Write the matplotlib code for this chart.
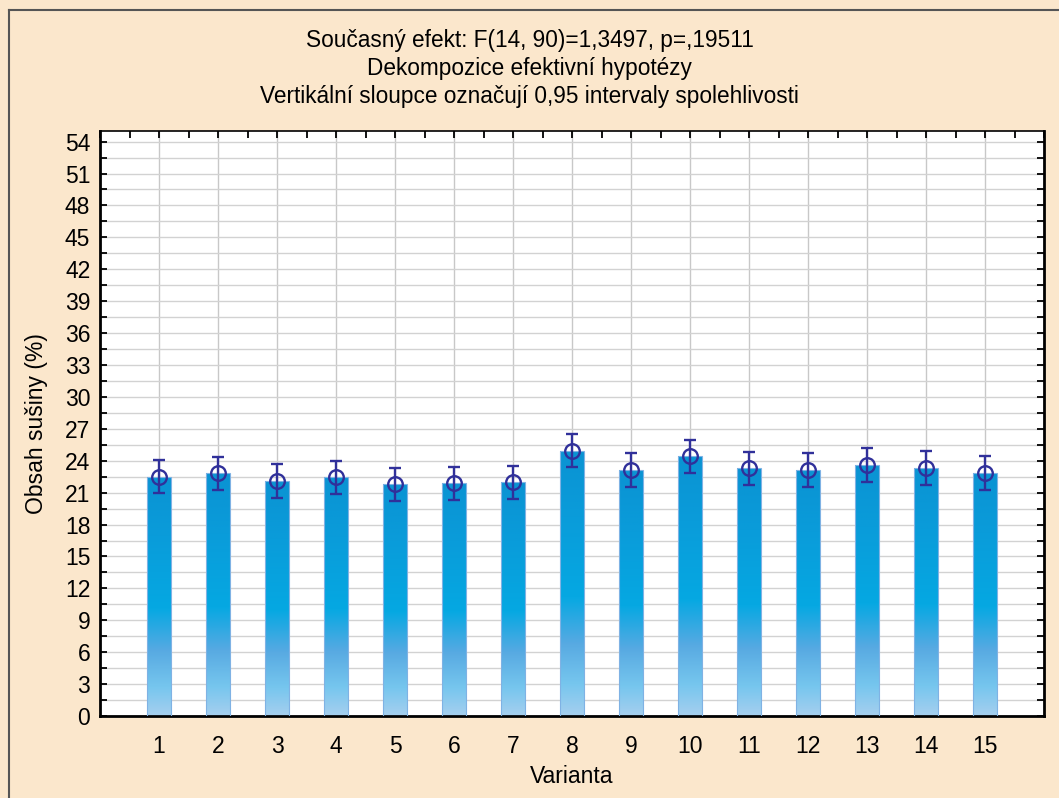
import numpy as np
import matplotlib
matplotlib.use("Agg")
import matplotlib.pyplot as plt
from matplotlib.colors import LinearSegmentedColormap
from matplotlib.lines import Line2D
from matplotlib.ticker import MultipleLocator

plt.rcParams["font.family"] = ["Liberation Sans", "DejaVu Sans"]

# data
varianta = [1, 2, 3, 4, 5, 6, 7, 8, 9, 10, 11, 12, 13, 14, 15]
means = [22.5, 22.83, 22.14, 22.45, 21.82, 21.95, 21.98, 24.93, 23.11, 24.43, 23.27, 23.11, 23.61, 23.33, 22.89]
ci_low = [20.95, 21.23, 20.54, 20.88, 20.23, 20.32, 20.38, 23.42, 21.52, 22.86, 21.70, 21.52, 22.01, 21.73, 21.26]
ci_high = [24.05, 24.37, 23.70, 23.96, 23.36, 23.45, 23.52, 26.53, 24.68, 25.96, 24.80, 24.68, 25.15, 24.87, 24.46]

titles = ["Současný efekt: F(14, 90)=1,3497, p=,19511",
          "Dekompozice efektivní hypotézy",
          "Vertikální sloupce označují 0,95 intervaly spolehlivosti"]

bg = "#FBE7CC"
fig = plt.figure(figsize=(10.59, 7.98), dpi=100)
fig.patch.set_facecolor(bg)
ax = fig.add_axes([100/1059, 1-716/798, 944/1059, 585/798])
ax.set_facecolor("white")

# gradient for the bars (bottom -> top)
cmap = LinearSegmentedColormap.from_list("bar", [
    (0.0, "#A6CFEF"), (0.12, "#76C6EE"), (0.27, "#58AAE2"),
    (0.45, "#05A8E2"), (0.75, "#0A9CDA"), (1.0, "#0A93D3")])

w = 0.4
x = np.array(varianta)
bars = ax.bar(x, means, width=w, color="none", edgecolor="#7FB2E4", linewidth=0.8, zorder=3)
grad = np.linspace(0, 1, 256).reshape(-1, 1)
for b in bars:
    x0 = b.get_x()
    h = b.get_height()
    im = ax.imshow(grad, cmap=cmap, origin="lower", aspect="auto",
                   extent=[x0, x0 + w, 0, h], zorder=2)
    im.set_clip_path(b)

ax.errorbar(x, means, yerr=[np.array(means) - np.array(ci_low), np.array(ci_high) - np.array(means)],
            fmt="o", mfc="none", mec="#30309A", ms=10.5, mew=1.7,
            ecolor="#30309A", elinewidth=1.7, capsize=4, capthick=1.7, zorder=4)

ax.set_xlim(0, 16)
ax.set_ylim(0, 55)
ax.set_xticks(varianta)
ax.xaxis.set_minor_locator(MultipleLocator(0.5))
ax.yaxis.set_major_locator(MultipleLocator(3))
ax.yaxis.set_minor_locator(MultipleLocator(1.5))
ax.set_yticks(np.arange(0, 55, 3))

ax.grid(True, which="major", axis="x", color="#C8C8C8", linewidth=1, zorder=0)
ax.grid(True, which="both", axis="y", color="#D2D2D2", linewidth=1, zorder=0)
ax.set_axisbelow(True)

ax.tick_params(which="both", direction="in", top=True, right=True, length=5, width=1.3,
               labelsize=16.5, pad=7)
ax.tick_params(axis="x", which="major", pad=14)
ax.tick_params(axis="x", which="minor", bottom=False)
for s in ["left", "bottom", "right"]:
    ax.spines[s].set_linewidth(2)
ax.spines["top"].set_linewidth(1.2)

ax.set_xlabel("Varianta", fontsize=16.5, labelpad=5)
ax.set_ylabel("Obsah sušiny (%)", fontsize=16.5, labelpad=12)

for i, t in enumerate(titles):
    fig.text(0.5, 1 - (40 + i * 28.5) / 798, t, ha="center", va="center", fontsize=16.3)

# outer frame lines (top and left)
fig.add_artist(Line2D([9/1059, 1], [1-10/798, 1-10/798], color="#555555", linewidth=1.5))
fig.add_artist(Line2D([9/1059, 9/1059], [0, 1-10/798], color="#555555", linewidth=1.5))

fig.savefig("out.png", dpi=100, facecolor=bg)
